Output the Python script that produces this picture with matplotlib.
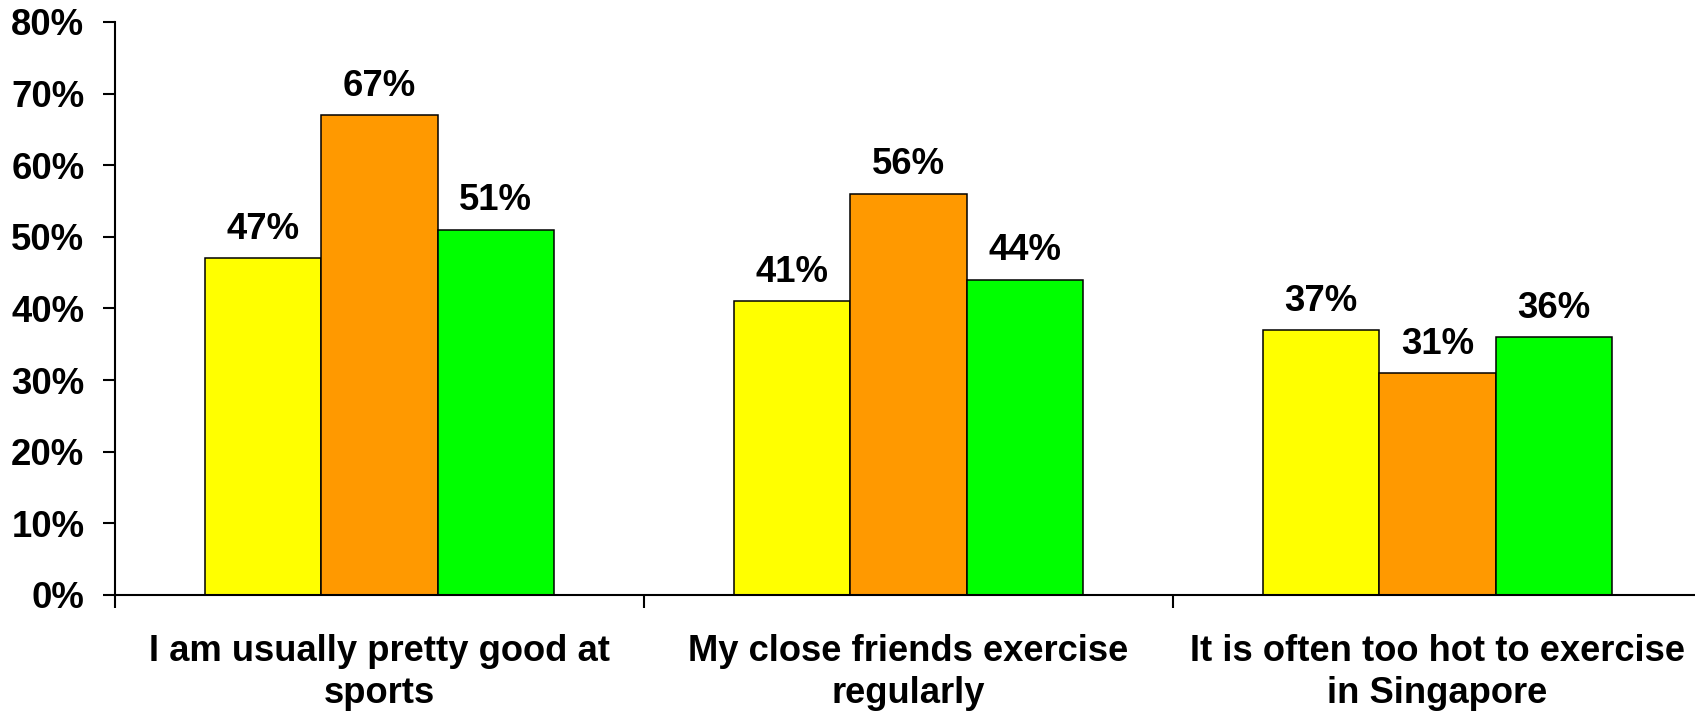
import numpy as np
import matplotlib.pyplot as plt
from matplotlib.ticker import FixedLocator, FuncFormatter

plt.rcParams['font.family'] = ['Liberation Sans', 'DejaVu Sans']
plt.rcParams['font.weight'] = 'bold'

# ===== data =====
categories = ['I am usually pretty good at\nsports',
              'My close friends exercise\nregularly',
              'It is often too hot to exercise\nin Singapore']
series_a = [47, 41, 37]
series_b = [67, 56, 31]
series_c = [51, 44, 36]
colors = ['#FFFF00', '#FF9900', '#00FF00']

W, H = 1695, 711
fig = plt.figure(figsize=(W / 100, H / 100), dpi=100)
# axes run slightly past the right edge, like the original export
ax = fig.add_axes([115 / W, 1 - 595 / H, (1702 - 115) / W, (595 - 22) / H])

x = np.arange(len(categories))
bw = 0.22
for k, (vals, col) in enumerate(zip([series_a, series_b, series_c], colors)):
    bars = ax.bar(x + (k - 1) * bw, vals, width=bw, color=col,
                  edgecolor='black', linewidth=1.1, zorder=2)
    for b, v in zip(bars, vals):
        ax.annotate(f'{v}%', (b.get_x() + b.get_width() / 2, v),
                    xytext=(0, 14), textcoords='offset points',
                    ha='center', va='baseline', fontsize=26.3, fontweight='bold')

ax.set_xlim(-0.5, 2.5)
ax.set_ylim(0, 80)
ax.set_yticks(np.arange(0, 81, 10))
ax.yaxis.set_major_formatter(FuncFormatter(lambda v, p: f'{v:.0f}%'))

# ticks between groups, labels under group centres
ax.xaxis.set_major_locator(FixedLocator([-0.5, 0.5, 1.5, 2.5]))
ax.xaxis.set_major_formatter(FuncFormatter(lambda v, p: ''))
ax.xaxis.set_minor_locator(FixedLocator(x))
ax.set_xticklabels(categories, minor=True, fontsize=26.2, fontweight='bold',
                   linespacing=1.28)

ax.tick_params(axis='y', which='major', length=9, width=1.5, pad=13,
               labelsize=26.3, direction='out')
ax.tick_params(axis='x', which='major', length=9, width=1.5, direction='out')
ax.tick_params(axis='x', which='minor', length=0, pad=28)

for s in ['top', 'right']:
    ax.spines[s].set_visible(False)
for s in ['left', 'bottom']:
    ax.spines[s].set_linewidth(1.5)

fig.savefig('out.png', dpi=100)
